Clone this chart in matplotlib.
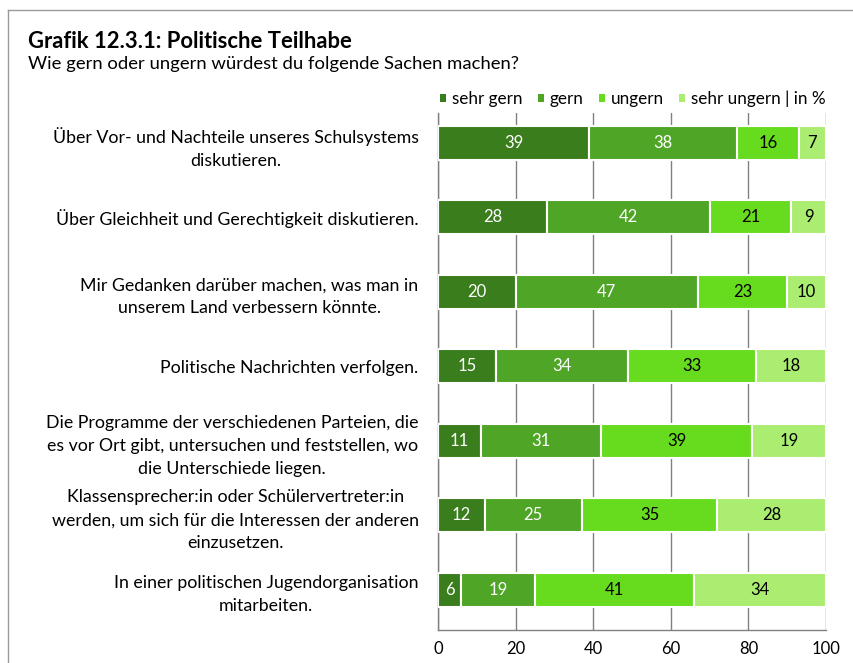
import numpy as np
import matplotlib.pyplot as plt
from matplotlib.lines import Line2D
from matplotlib.patches import Patch

plt.rcParams['font.family'] = ['Lato', 'DejaVu Sans']

categories = [
    "Über Vor- und Nachteile unseres Schulsystems\ndiskutieren.",
    "Über Gleichheit und Gerechtigkeit diskutieren.",
    "Mir Gedanken darüber machen, was man in\nunserem Land verbessern könnte.",
    "Politische Nachrichten verfolgen.",
    "Die Programme der verschiedenen Parteien, die\nes vor Ort gibt, untersuchen und feststellen, wo\ndie Unterschiede liegen.",
    "Klassensprecher:in oder Schülervertreter:in\nwerden, um sich für die Interessen der anderen\neinzusetzen.",
    "In einer politischen Jugendorganisation\nmitarbeiten.",
]
sehr_gern = [39, 28, 20, 15, 11, 12, 6]
gern = [38, 42, 47, 34, 31, 25, 19]
ungern = [16, 21, 23, 33, 39, 35, 41]
sehr_ungern = [7, 9, 10, 18, 19, 28, 34]

series = [sehr_gern, gern, ungern, sehr_ungern]
names = ["sehr gern", "gern", "ungern", "sehr ungern | in %"]
colors = ["#3a7d1c", "#4fa526", "#67dc1e", "#abed70"]
text_colors = ["white", "white", "black", "black"]

fig = plt.figure(figsize=(8.54, 6.63), dpi=100)
ax = fig.add_axes([0.5129, 0.0498, 0.4543, 0.7798])

y = np.arange(len(categories))
left = np.zeros(len(categories))
for vals, col, tcol, name in zip(series, colors, text_colors, names):
    vals = np.array(vals)
    ax.barh(y, vals, left=left, height=0.46, color=col, edgecolor="white",
            linewidth=1.5, label=name, zorder=3)
    for yi, (l, v) in enumerate(zip(left, vals)):
        ax.text(l + v / 2, yi, str(v), ha="center", va="center",
                color=tcol, fontsize=12, zorder=4)
    left += vals

ax.set_xlim(0, 100)
ax.set_ylim(6.54, -0.40)
ax.set_xticks([0, 20, 40, 60, 80, 100])
ax.tick_params(axis="x", length=0, labelsize=12, pad=8)
ax.set_yticks(y)
ax.set_yticklabels(categories, fontsize=12.8, ha="right", multialignment="center",
                   linespacing=1.55)
ax.tick_params(axis="y", length=0, pad=14)
ax.xaxis.grid(True, color="#808080", linewidth=1, zorder=0)
for s in ["top", "right"]:
    ax.spines[s].set_visible(False)
for s in ["left", "bottom"]:
    ax.spines[s].set_color("#808080")
    ax.spines[s].set_linewidth(1)

# title block
fig.text(0.033, 0.938, "Grafik 12.3.1: Politische Teilhabe", fontsize=15.8,
         fontweight="bold", va="center")
fig.text(0.033, 0.903, "Wie gern oder ungern würdest du folgende Sachen machen?",
         fontsize=13.3, va="center")

handles = [Patch(facecolor=c) for c in colors]
fig.legend(handles, names, loc="center right", bbox_to_anchor=(0.985, 0.851),
           ncol=4, frameon=False, fontsize=12.3, handlelength=0.35,
           handleheight=0.35, handletextpad=0.35, columnspacing=0.9)

# frame lines along top and left edge
fig.add_artist(Line2D([0.0094, 1.0], [0.985, 0.985], color="#9a9a9a", linewidth=1))
fig.add_artist(Line2D([0.0094, 0.0094], [0.0, 0.985], color="#9a9a9a", linewidth=1))

plt.savefig("out.png", dpi=100)
